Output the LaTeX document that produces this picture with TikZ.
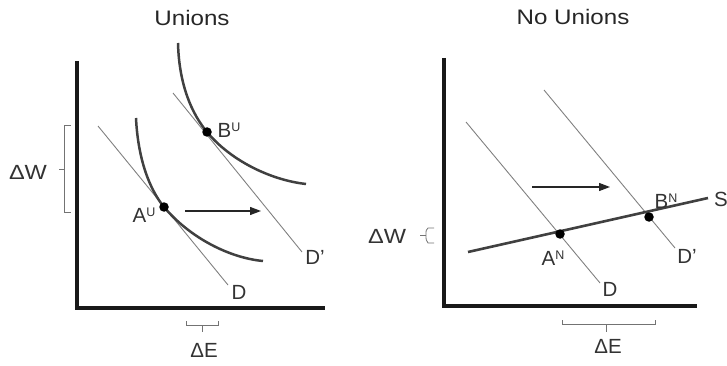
\documentclass[tikz,border=0pt]{standalone}
\usepackage{fontspec}
\setmainfont{Liberation Sans}
\usetikzlibrary{arrows.meta}
\newcommand{\supx}[1]{\raisebox{5.6pt}{\fontsize{12.5}{12.5}\selectfont #1}}
\begin{document}
\begin{tikzpicture}[x=1pt,y=-1pt,
 axis/.style={line width=3.6pt, black!90, line join=miter},
 icurve/.style={line width=2.5pt, black!75},
 dem/.style={line width=0.9pt, black!50},
 supp/.style={line width=2.6pt, black!75},
 brk/.style={line width=0.8pt, black!55},
 dot/.style={circle, fill=black, inner sep=0pt, minimum size=9.5pt},
 lbl/.style={font=\fontsize{20.5}{20.5}\selectfont, text=black!80, inner sep=0pt},
 ttl/.style={font=\fontsize{21}{21}\selectfont, text=black!85, inner sep=0pt},
 shiftarrow/.style={-{Triangle[length=11pt,width=8pt]}, line width=1.3pt, black!85}]
\useasboundingbox (0,0) rectangle (727,366);

% ===== Left panel: Unions =====
\node[ttl] (t1) at (192,18) {\scalebox{1.15}[1]{Unions}};
\draw[axis] (77,61) -- (77,308) -- (325,308);

% demand lines
\coordinate (d1s) at (98,126);  \coordinate (d1e) at (228,285);
\coordinate (d2s) at (173,93);  \coordinate (d2e) at (302,252);
\draw[dem] (d1s) -- (d1e);
\draw[dem] (d2s) -- (d2e);
\node[lbl] (lD1) at (239,292) {D};
\node[lbl] (lD2) at (315,257) {D'};

% indifference curves
\coordinate (AUc) at (164,207);
\coordinate (BUc) at (207,132);
\draw[icurve] (136,118) .. controls (138,160) and (150,190) .. (AUc)
  .. controls (190,238) and (230,258) .. (263,261);
\draw[icurve] (178,43) .. controls (179,85) and (192,114) .. (BUc)
  .. controls (230,160) and (270,180) .. (306,184);
\node[dot] (AU) at (AUc) {};
\node[dot] (BU) at (BUc) {};
\node[lbl] (lAU) at (144,215) {A\supx{U}};
\node[lbl] (lBU) at (229,130) {B\supx{U}};

% shift arrow
\coordinate (ar1s) at (185,211); \coordinate (ar1e) at (261,211);
\draw[shiftarrow] (ar1s) -- (ar1e);

% brackets
\draw[brk] (71,125) -- (64,125) -- (64,212) -- (71,212);
\draw[brk] (64,169) -- (59,169);
\node[lbl] (dW1) at (28,172) {\scalebox{1.15}[1]{ΔW}};
\draw[brk] (186,321) -- (186,325) -- (218,325) -- (218,321);
\draw[brk] (202,325) -- (202,332);
\node[lbl] (dE1) at (204,350) {ΔE};

% ===== Right panel: No Unions =====
\node[ttl] (t2) at (573,17) {\scalebox{1.15}[1]{No Unions}};
\draw[axis] (444,58) -- (444,306) -- (697,306);

\coordinate (d3s) at (466,122); \coordinate (d3e) at (600,283);
\coordinate (d4s) at (544,90);  \coordinate (d4e) at (675,248);
\draw[dem] (d3s) -- (d3e);
\draw[dem] (d4s) -- (d4e);
\node[lbl] (lD3) at (610,289) {D};
\node[lbl] (lD4) at (687,256) {D'};

\coordinate (ss) at (468,252); \coordinate (se) at (708,198);
\draw[supp] (ss) -- (se);
\node[lbl, anchor=west] (lS) at (714,199) {S};

\node[dot] (AN) at (560,234) {};
\node[dot] (BN) at (649,217) {};
\node[lbl] (lAN) at (553,258) {A\supx{N}};
\node[lbl] (lBN) at (666,201) {B\supx{N}};

\coordinate (ar2s) at (532,187); \coordinate (ar2e) at (610,187);
\draw[shiftarrow] (ar2s) -- (ar2e);

\draw[brk] (434,228) -- (428,228) .. controls (426,230) .. (426,235) .. controls (426,240) .. (428,243) -- (434,243);
\draw[brk] (426,235) -- (420,235);
\node[lbl] (dW2) at (387,236) {\scalebox{1.15}[1]{ΔW}};
\draw[brk] (562,320) -- (562,324) -- (655,324) -- (655,320);
\draw[brk] (606,324) -- (606,332);
\node[lbl] (dE2) at (608,346) {ΔE};
\end{tikzpicture}
\end{document}
